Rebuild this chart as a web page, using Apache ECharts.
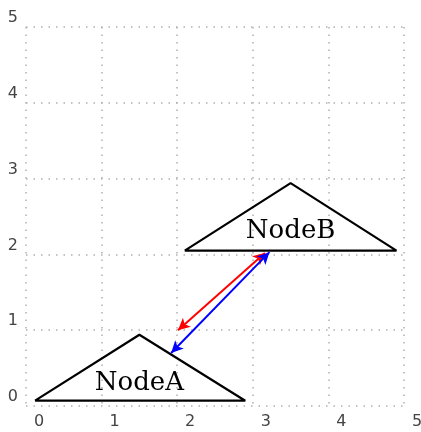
<!DOCTYPE html>
<html>
<head>
<meta charset="utf-8">
<script src="https://cdn.jsdelivr.net/npm/echarts@6/dist/echarts.min.js"></script>
<style>html,body{margin:0;padding:0;background:#fff;}#c{width:421px;height:432px;}</style>
</head>
<body>
<div id="c"></div>
<script>
var tickLabels = ['0','1','2','3','4','5'];
var nodeNames = ['NodeA','NodeB'];
var nodeA = [[0.12,0.07],[2.9,0.07],[1.5,0.94]];
var nodeB = [[2.1,2.05],[4.9,2.05],[3.5,2.94]];
var labelPos = [[1.5,0.30],[3.5,2.30]];
var redArrow = [[2.01,1.0],[3.16,2.02]];
var blueArrow = [[1.92,0.70],[3.22,2.03]];

function closed(t){ return t.concat([t[0]]); }
var chart = echarts.init(document.getElementById('c'), null, {renderer:'canvas'});
var gridLine = {show:true, lineStyle:{color:'#b0b0b0', width:1.5, type:[1.5,6]}};
function arrow(pts, color){
  return {
    silent:true, symbol:['arrow','arrow'], symbolSize:[9,12],
    label:{show:false}, animation:false,
    lineStyle:{color:color, width:2, type:'solid', opacity:1},
    data:[[{coord:pts[0]},{coord:pts[1]}]]
  };
}
chart.setOption({
  animation:false,
  grid:{left:26, right:17, top:27, bottom:26, containLabel:false, outerBoundsMode:'none'},
  xAxis:{type:'value', min:0, max:5, interval:1,
    axisLine:{show:false}, axisTick:{show:false}, splitLine:gridLine,
    axisLabel:{color:'#444', fontSize:16, fontFamily:'DejaVu Sans', margin:8,
      padding:[0,0,0,26], formatter:function(v){return tickLabels[v];}}},
  yAxis:{type:'value', min:0, max:5, interval:1,
    axisLine:{show:false}, axisTick:{show:false}, splitLine:gridLine,
    axisLabel:{color:'#444', fontSize:16, fontFamily:'DejaVu Sans', margin:8,
      verticalAlign:'bottom', padding:[0,0,1,0], formatter:function(v){return tickLabels[v];}}},
  series:[
    {type:'line', data:closed(nodeA), symbol:'none', lineStyle:{color:'#000', width:2.2}, silent:true},
    {type:'line', data:closed(nodeB), symbol:'none', lineStyle:{color:'#000', width:2.2}, silent:true},
    {type:'scatter', symbolSize:0, silent:true, itemStyle:{opacity:1},
      data:[{name:nodeNames[0], value:labelPos[0]},{name:nodeNames[1], value:labelPos[1]}],
      label:{show:true, position:'inside', formatter:'{b}', color:'#000', fontFamily:'DejaVu Serif', fontSize:26},
      markLine:arrow(redArrow,'#ff0000')},
    {type:'scatter', symbolSize:0, silent:true, data:[], itemStyle:{opacity:1},
      markLine:arrow(blueArrow,'#0000ff')}
  ]
});
</script>
</body>
</html>
